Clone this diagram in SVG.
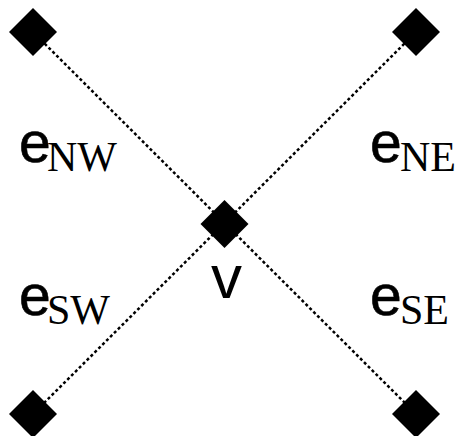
<svg xmlns="http://www.w3.org/2000/svg" width="462" height="436" viewBox="0 0 462 436">
<defs>
<style>
.edge{stroke:#000;stroke-width:2.5;stroke-dasharray:3 2.5;fill:none}
.d{fill:#000}
.e{font-family:"Liberation Sans",Arial,sans-serif;font-size:57px;stroke:#000;stroke-width:0.6}
.s{font-family:"Liberation Serif","Times New Roman",serif;font-size:42px}
.v{font-family:"Liberation Sans",Arial,sans-serif;font-size:62px}
</style>
<polygon id="dia" class="d" points="0,-24 24,0 0,24 -24,0"/>
</defs>
<rect width="462" height="436" fill="#fff"/>
<g id="connectors">
<line class="edge" x1="33" y1="32" x2="416" y2="414"/>
<line class="edge" x1="416" y1="32" x2="33" y2="414"/>
</g>
<g id="nw"><use href="#dia" x="33" y="32"/></g>
<g id="ne"><use href="#dia" x="416" y="32"/></g>
<g id="sw"><use href="#dia" x="33" y="414"/></g>
<g id="se"><use href="#dia" x="416" y="414"/></g>
<g id="v"><use href="#dia" x="224.5" y="224"/><text class="v" x="211" y="298">v</text></g>
<g id="eNW"><text class="e" x="19" y="162">e</text><text class="s" x="47" y="171">NW</text></g>
<g id="eNE"><text class="e" x="370" y="162">e</text><text class="s" x="400" y="171">NE</text></g>
<g id="eSW"><text class="e" x="19" y="315">e</text><text class="s" x="47" y="324">SW</text></g>
<g id="eSE"><text class="e" x="370" y="315">e</text><text class="s" x="400" y="324">SE</text></g>
</svg>
